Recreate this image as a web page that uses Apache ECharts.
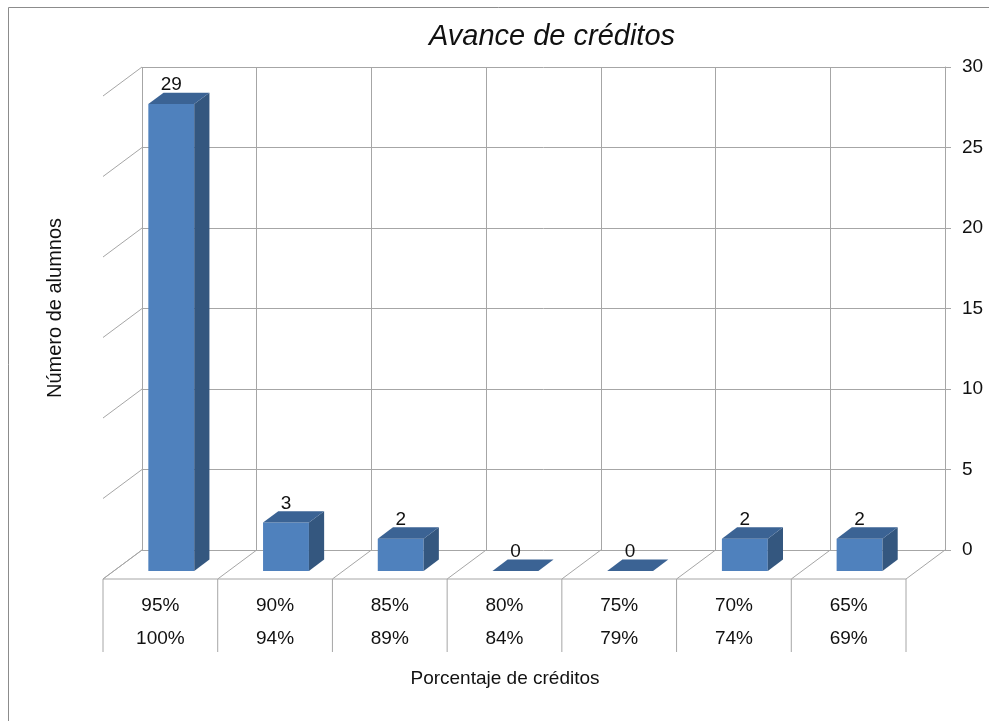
<!DOCTYPE html>
<html>
<head>
<meta charset="utf-8">
<title>Avance de créditos</title>
<script src="https://cdn.jsdelivr.net/npm/echarts@6/dist/echarts.min.js"></script>
<style>
  html, body { margin: 0; padding: 0; background: #fff; }
  #main { width: 989px; height: 721px; }
</style>
</head>
<body>
<div id="main"></div>
<script>
// datos
const rangoDesde = ['95%', '90%', '85%', '80%', '75%', '70%', '65%'];
const rangoHasta = ['100%', '94%', '89%', '84%', '79%', '74%', '69%'];
const alumnos = [29, 3, 2, 0, 0, 2, 2];
const marcasY = [0, 5, 10, 15, 20, 25, 30];

// perspectiva oblicua tipo Excel 3D
const DX = -39, DY = 29;        // desplazamiento de la pared del fondo al frente
const FRENTE = 0.72, FONDO = 0.33; // profundidad de las barras
const LINEA = '#A6A6A6';
const FUENTE = '"Liberation Sans", Arial, sans-serif';
const TAM = 19;

const myChart = echarts.init(document.getElementById('main'));

// paredes laterales y suelo
function renderPared (params, api) {
  const p0 = api.coord([0, api.value(0)]);
  const w = api.size([1, 0])[0];
  const x = p0[0] - w / 2;
  return {
    type: 'line',
    shape: { x1: x, y1: p0[1], x2: x + DX, y2: p0[1] + DY },
    style: { stroke: LINEA, lineWidth: 1 }
  };
}

// tabla de categorías (celdas delante del suelo)
function renderTabla (params, api) {
  const i = api.value(0);
  const c = api.coord([i, 0]);
  const w = api.size([1, 0])[0];
  const xb = c[0] - w / 2;          // borde izquierdo en el fondo
  const xf = xb + DX;               // borde izquierdo delante
  const yf = c[1] + DY;
  const children = [
    { type: 'line', shape: { x1: xb, y1: c[1], x2: xf, y2: yf }, style: { stroke: LINEA } },
    { type: 'line', shape: { x1: xf, y1: yf, x2: xf, y2: yf + 73 }, style: { stroke: LINEA } },
    { type: 'line', shape: { x1: xf, y1: yf, x2: xf + w, y2: yf }, style: { stroke: LINEA } },
    { type: 'text', style: { text: rangoDesde[i], x: xf + w / 2, y: yf + 27, align: 'center', verticalAlign: 'middle', font: TAM + 'px ' + FUENTE, fill: '#111' } },
    { type: 'text', style: { text: rangoHasta[i], x: xf + w / 2, y: yf + 60, align: 'center', verticalAlign: 'middle', font: TAM + 'px ' + FUENTE, fill: '#111' } }
  ];
  if (i === rangoDesde.length - 1) {
    children.push({ type: 'line', shape: { x1: xb + w, y1: c[1], x2: xf + w, y2: yf }, style: { stroke: LINEA } });
    children.push({ type: 'line', shape: { x1: xf + w, y1: yf, x2: xf + w, y2: yf + 73 }, style: { stroke: LINEA } });
  }
  return { type: 'group', children: children };
}

// barras 3D
function renderBarra (params, api) {
  const i = api.value(0);
  const v = api.value(1);
  const top = api.coord([i, v]);
  const base = api.coord([i, 0]);
  const w = api.size([1, 0])[0] * 0.4;
  const ox = DX * (FONDO - FRENTE), oy = DY * (FONDO - FRENTE);
  const x0 = top[0] - w / 2 + DX * FRENTE, x1 = x0 + w;
  const yt = top[1] + DY * FRENTE, yb = base[1] + DY * FRENTE;
  const children = [];
  if (v > 0) {
    children.push({ type: 'rect', shape: { x: x0, y: yt, width: w, height: yb - yt }, style: { fill: '#4F81BD' } });
    children.push({ type: 'polygon', shape: { points: [[x1, yt], [x1 + ox, yt + oy], [x1 + ox, yb + oy], [x1, yb]] }, style: { fill: '#34577F' } });
  }
  children.push({ type: 'polygon', shape: { points: [[x0, yt], [x0 + ox, yt + oy], [x1 + ox, yt + oy], [x1, yt]] }, style: { fill: '#3B6394' } });
  children.push({ type: 'text', style: { text: String(v), x: (x0 + x1) / 2, y: yt - 19, align: 'center', verticalAlign: 'middle', font: TAM + 'px ' + FUENTE, fill: '#111' } });
  return { type: 'group', children: children };
}

let option = {
  backgroundColor: '#fff',
  animation: false,
  title: {
    text: 'Avance de créditos',
    left: 552,
    top: 22,
    textAlign: 'center',
    padding: 0,
    textStyle: { fontFamily: FUENTE, fontSize: 29, fontStyle: 'italic', fontWeight: 'normal', color: '#111' }
  },
  grid: { left: 142, right: 44, top: 67, bottom: 171 },
  xAxis: {
    type: 'category',
    data: rangoDesde,
    boundaryGap: true,
    axisLine: { show: false },
    axisTick: { show: false },
    axisLabel: { show: false },
    splitLine: { show: true, lineStyle: { color: LINEA, width: 1 } }
  },
  yAxis: {
    type: 'value',
    position: 'right',
    min: 0,
    max: 30,
    interval: 5,
    axisLine: { show: true, lineStyle: { color: LINEA, width: 1 } },
    axisTick: { show: true, length: 6, lineStyle: { color: LINEA } },
    axisLabel: { margin: 17, fontFamily: FUENTE, fontSize: TAM, color: '#111' },
    splitLine: { show: true, lineStyle: { color: LINEA, width: 1 } }
  },
  graphic: [
    { type: 'line', shape: { x1: 8.5, y1: 7.5, x2: 989, y2: 7.5 }, style: { stroke: '#8C8C8C', lineWidth: 1 } },
    { type: 'line', shape: { x1: 8.5, y1: 7.5, x2: 8.5, y2: 721 }, style: { stroke: '#8C8C8C', lineWidth: 1 } },
    { type: 'text', x: 55, y: 308, rotation: Math.PI / 2,
      style: { text: 'Número de alumnos', align: 'center', verticalAlign: 'middle', font: '20px ' + FUENTE, fill: '#111' } },
    { type: 'text', x: 505, y: 679,
      style: { text: 'Porcentaje de créditos', align: 'center', verticalAlign: 'middle', font: TAM + 'px ' + FUENTE, fill: '#111' } }
  ],
  series: [
    {
      name: 'pared',
      type: 'custom',
      renderItem: renderPared,
      data: marcasY.map(v => [v]),
      encode: { y: 0 },
      silent: true,
      z: 1
    },
    {
      name: 'tabla',
      type: 'custom',
      renderItem: renderTabla,
      data: rangoDesde.map((_, i) => [i]),
      encode: { x: 0 },
      silent: true,
      z: 1
    },
    {
      name: 'Número de alumnos',
      type: 'custom',
      renderItem: renderBarra,
      data: alumnos.map((v, i) => [i, v]),
      encode: { x: 0, y: 1 },
      z: 3
    }
  ]
};
option && myChart.setOption(option);
</script>
</body>
</html>
